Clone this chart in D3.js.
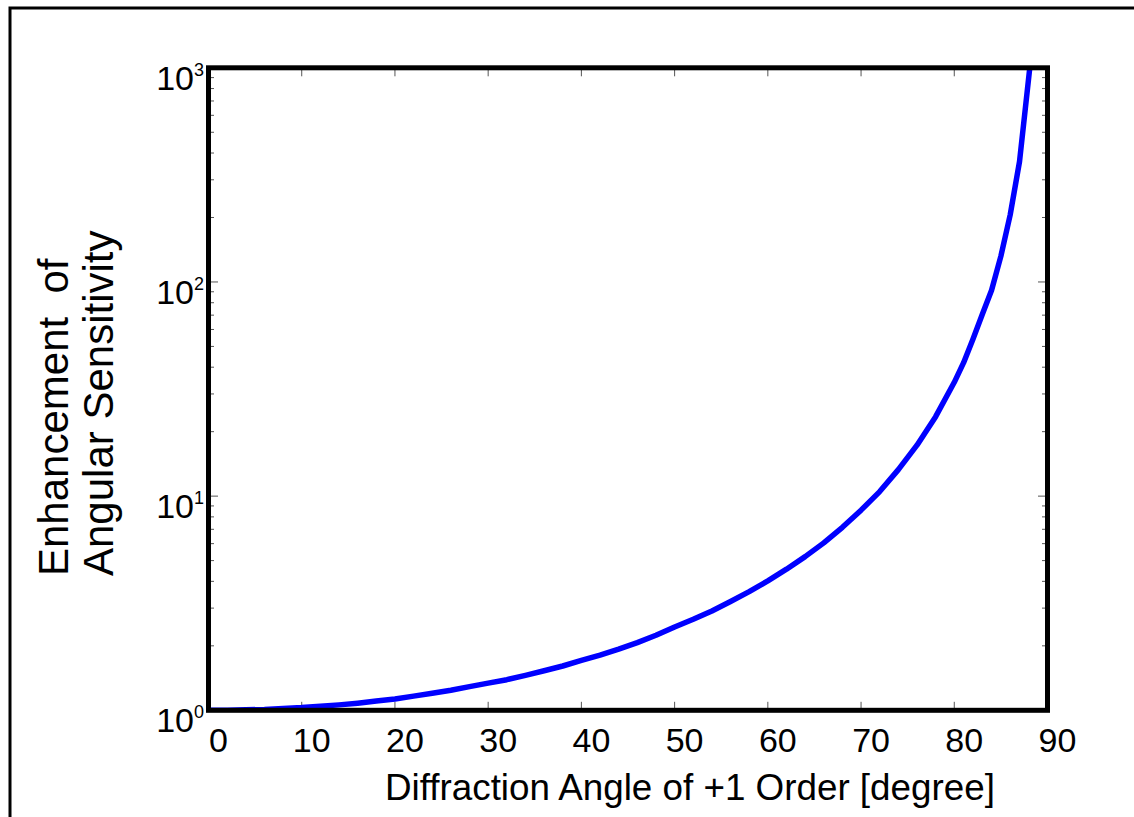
<!DOCTYPE html>
<html>
<head>
<meta charset="utf-8">
<script src="https://cdn.jsdelivr.net/npm/d3@7"></script>
<style>
  html, body { margin: 0; padding: 0; background: #fff; }
  svg { display: block; font-family: "Liberation Sans", Arial, Helvetica, sans-serif; }
  svg text { white-space: pre; }
</style>
</head>
<body>
<svg id="chart" width="1134" height="817"></svg>
<script>
// Diffraction angle of the +1 order (degrees)
const angles = [0, 2, 4, 6, 8, 10, 12, 14, 16, 18, 20, 22, 24, 26, 28, 30, 32, 34, 36, 38,
                40, 42, 44, 46, 48, 50, 52, 54, 56, 58, 60, 62, 64, 66, 68, 70, 72, 74, 76, 78,
                80, 81, 82, 83, 84, 85, 86, 87, 88.1];
// Enhancement of angular sensitivity at each angle
const enhancement = [1.00, 1.00, 1.005, 1.01, 1.02, 1.03, 1.045, 1.06, 1.08, 1.105, 1.13, 1.165, 1.20, 1.24, 1.29,
                     1.34, 1.39, 1.455, 1.53, 1.61, 1.71, 1.81, 1.93, 2.07, 2.24, 2.45, 2.66, 2.91, 3.22, 3.58,
                     4.02, 4.56, 5.22, 6.05, 7.15, 8.6, 10.5, 13.3, 17.3, 23.5, 34.0, 42.0, 54.0, 70.5,
                     91.5, 132, 206, 365, 1000];

const xTicks = [0, 10, 20, 30, 40, 50, 60, 70, 80, 90];
const yDecades = [1, 10, 100, 1000];
const yExponents = ["0", "1", "2", "3"];
const xTitle = "Diffraction Angle of +1 Order [degree]";
const yTitleLines = ["Enhancement  of", "Angular Sensitivity"];

const svg = d3.select("#chart");

// outer frame lines (top and left)
svg.append("path")
  .attr("d", "M10,817 L10,8 L1134,8")
  .attr("fill", "none").attr("stroke", "#000").attr("stroke-width", 3);

const pLeft = 208.5, pRight = 1047.5, pTop = 67.8, pBottom = 710.3;
const x = d3.scaleLinear().domain([0, 90]).range([pLeft, pRight]);
const y = d3.scaleLog().domain([1, 1000]).range([pBottom, pTop]);

// minor ticks on the log axis (2..9 within each decade)
const minor = [];
[1, 10, 100].forEach(d => { for (let k = 2; k <= 9; k++) minor.push(d * k); });

const tickColor = "#555";
const ticks = svg.append("g").attr("stroke", tickColor).attr("stroke-width", 1);
xTicks.slice(1, -1).forEach(v => {
  ticks.append("line").attr("x1", x(v)).attr("x2", x(v)).attr("y1", pBottom).attr("y2", pBottom - 8.5);
  ticks.append("line").attr("x1", x(v)).attr("x2", x(v)).attr("y1", pTop).attr("y2", pTop + 8.5);
});
minor.forEach(v => {
  ticks.append("line").attr("x1", pLeft).attr("x2", pLeft + 5.5).attr("y1", y(v)).attr("y2", y(v));
  ticks.append("line").attr("x1", pRight).attr("x2", pRight - 5.5).attr("y1", y(v)).attr("y2", y(v));
});
yDecades.slice(1, -1).forEach(v => {
  ticks.append("line").attr("x1", pLeft).attr("x2", pLeft + 9.5).attr("y1", y(v)).attr("y2", y(v));
  ticks.append("line").attr("x1", pRight).attr("x2", pRight - 9.5).attr("y1", y(v)).attr("y2", y(v));
});

// the data curve, clipped to the axes box
svg.append("clipPath").attr("id", "plotClip")
  .append("rect").attr("x", pLeft).attr("y", pTop).attr("width", pRight - pLeft).attr("height", pBottom - pTop);

const line = d3.line().x((d, i) => x(angles[i])).y(d => y(d));
svg.append("path")
  .datum(enhancement)
  .attr("clip-path", "url(#plotClip)")
  .attr("d", line)
  .attr("fill", "none")
  .attr("stroke", "#0000ff")
  .attr("stroke-width", 5.5)
  .attr("stroke-linejoin", "round");

// axes box
svg.append("rect")
  .attr("x", pLeft).attr("y", pTop).attr("width", pRight - pLeft).attr("height", pBottom - pTop)
  .attr("fill", "none").attr("stroke", "#000").attr("stroke-width", 5);

// x tick labels
svg.append("g").selectAll("text").data(xTicks).join("text")
  .attr("x", d => x(d) + 10).attr("y", 752)
  .attr("text-anchor", "middle").attr("font-size", 34).attr("fill", "#000")
  .text(d => d);

// y tick labels: 10 with superscript exponent
const yl = svg.append("g").attr("fill", "#000");
yDecades.forEach((v, i) => {
  yl.append("text").attr("x", 194).attr("y", y(v) + 22)
    .attr("text-anchor", "end").attr("font-size", 34).text("10");
  yl.append("text").attr("x", 194).attr("y", y(v) + 8)
    .attr("text-anchor", "start").attr("font-size", 18).text(yExponents[i]);
});

// axis titles
svg.append("text").attr("x", 385).attr("y", 800)
  .attr("font-size", 36.8).attr("fill", "#000").text(xTitle);

yTitleLines.forEach((t, i) => {
  svg.append("text")
    .attr("transform", `translate(${68 + i * 45},576) rotate(-90)`)
    .attr("text-anchor", "start").attr("font-size", 42).attr("fill", "#000")
    .text(t);
});
</script>
</body>
</html>
